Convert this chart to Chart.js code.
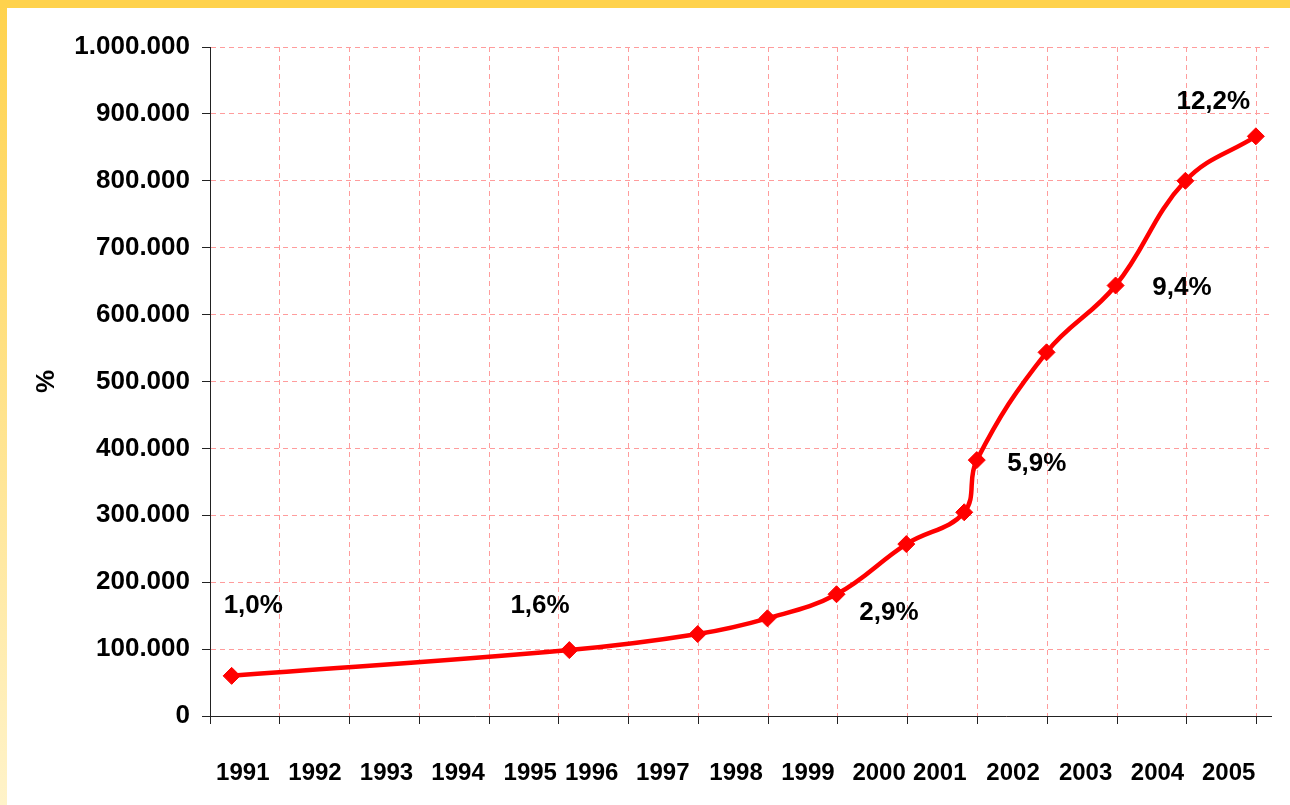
<!DOCTYPE html>
<html>
<head>
<meta charset="utf-8">
<script src="https://cdn.jsdelivr.net/npm/chart.js@4"></script>
<style>
  html, body { margin: 0; padding: 0; background: #fff; }
  canvas { display: block; }
</style>
</head>
<body>
<canvas id="chart" width="1290" height="805"></canvas>
<script>
// x positions are in grid steps (0 = y axis, 1 step per year column)
const pointPos = [0.31, 5.15, 6.99, 7.99, 8.98, 9.98, 10.81, 10.99, 11.99, 12.98, 13.98, 14.99];
const pointValues = [60000, 98500, 122500, 146000, 182000, 257000, 304500, 382500, 543600, 643500, 800000, 866500];

const years = ['1991', '1992', '1993', '1994', '1995', '1996', '1997', '1998', '1999', '2000', '2001', '2002', '2003', '2004', '2005'];
const yearPos = [0.47, 1.505, 2.53, 3.555, 4.59, 5.47, 6.49, 7.54, 8.57, 9.59, 10.46, 11.51, 12.55, 13.58, 14.6];

const pctLabels = ['1,0%', '1,6%', '2,9%', '5,9%', '9,4%', '12,2%'];
const pctPos = [0.62, 4.73, 9.73, 11.85, 13.93, 14.38];
const pctValues = [165000, 165000, 153500, 377500, 640000, 918000];

const gridTicks = [0, 1, 2, 3, 4, 5, 6, 7, 8, 9, 10, 11, 12, 13, 14, 15];

const FONT = '"Liberation Sans", Arial, sans-serif';
const gridRed = '#FF9C9C';

// frame: yellow band on top, fading strip on the left
const framePlugin = {
  id: 'frame',
  beforeDraw(chart) {
    const ctx = chart.ctx;
    ctx.save();
    ctx.fillStyle = '#fff';
    ctx.fillRect(0, 0, chart.width, chart.height);
    const g = ctx.createLinearGradient(0, 0, 0, chart.height);
    g.addColorStop(0, '#FFD24C');
    g.addColorStop(1, '#FFF3C9');
    ctx.fillStyle = g;
    ctx.fillRect(0, 0, 7, chart.height);
    ctx.fillStyle = '#FFD24C';
    ctx.fillRect(0, 0, chart.width, 8);
    ctx.restore();
  }
};

const textPlugin = {
  id: 'texts',
  afterDatasetsDraw(chart) {
    const ctx = chart.ctx;
    const x = chart.scales.x;
    const y = chart.scales.y;
    ctx.save();
    ctx.fillStyle = '#000';
    ctx.textAlign = 'center';
    ctx.textBaseline = 'middle';

    ctx.font = 'bold 26px ' + FONT;
    pctLabels.forEach((t, i) => {
      ctx.fillText(t, x.getPixelForValue(pctPos[i]), y.getPixelForValue(pctValues[i]));
    });

    ctx.font = 'bold 24px ' + FONT;
    years.forEach((t, i) => {
      ctx.fillText(t, x.getPixelForValue(yearPos[i]), chart.chartArea.bottom + 57);
    });
    ctx.restore();
  }
};

new Chart(document.getElementById('chart'), {
  type: 'line',
  data: {
    datasets: [{
      data: pointPos.map((p, i) => ({ x: p, y: pointValues[i] })),
      borderColor: '#FF0000',
      backgroundColor: '#FF0000',
      borderWidth: 4.5,
      tension: 0.4,
      pointStyle: 'rectRot',
      pointRadius: 8.5,
      pointBorderWidth: 1,
      pointBackgroundColor: '#FF0000',
      pointBorderColor: '#FF0000'
    }]
  },
  options: {
    responsive: false,
    animation: false,
    events: [],
    layout: {
      padding: { left: 27, top: 47, right: 19, bottom: 0 }
    },
    plugins: {
      legend: { display: false },
      tooltip: { enabled: false }
    },
    scales: {
      x: {
        type: 'linear',
        min: 0,
        max: 15.207,
        afterBuildTicks: (scale) => {
          scale.ticks = gridTicks.map(v => ({ value: v }));
        },
        afterFit: (scale) => { scale.height = 89; },
        ticks: {
          callback: () => '',
          font: { size: 1 }
        },
        grid: {
          color: gridRed,
          lineWidth: 1,
          tickLength: 8,
          tickColor: '#222',
          tickBorderDash: []
        },
        border: { color: '#222', width: 1, dash: [5, 4] }
      },
      y: {
        min: 0,
        max: 1000000,
        afterFit: (scale) => { scale.width = 183; },
        ticks: {
          stepSize: 100000,
          padding: 12,
          color: '#000',
          font: { family: FONT, size: 26, weight: 'bold' },
          callback: (v) => v.toString().replace(/\B(?=(\d{3})+(?!\d))/g, '.')
        },
        grid: {
          color: gridRed,
          lineWidth: 1,
          tickLength: 8,
          tickColor: '#222',
          tickBorderDash: []
        },
        border: { color: '#222', width: 1, dash: [5, 4] },
        title: {
          display: true,
          text: '%',
          color: '#000',
          font: { family: FONT, size: 26, weight: 'bold' },
          padding: { top: 4, bottom: 4 }
        }
      }
    }
  },
  plugins: [framePlugin, textPlugin]
});
</script>
</body>
</html>
